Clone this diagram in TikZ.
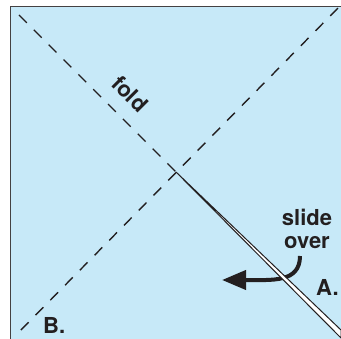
\documentclass[tikz,border=0pt]{standalone}
\usepackage{fontspec}
\setmainfont{TeX Gyre Heros}
\usetikzlibrary{arrows.meta, positioning}
\definecolor{paper}{HTML}{C7E9F8}
\definecolor{ink}{HTML}{231F20}

\begin{document}
\begin{tikzpicture}[x=1pt, y=-1pt,
  crease/.style={ink, line width=1.4pt, dash pattern=on 11pt off 10pt},
  lbl/.style={ink, font=\fontsize{22}{23}\selectfont\bfseries, inner sep=0pt}]
% Frame
\clip (0,0) rectangle (341,339);
\fill[white] (0,0) rectangle (341,339);
\fill[paper] (10.5,6.5) rectangle (350,350);
\draw[ink!85, line width=1.5pt] (10.5,350) -- (10.5,6.5) -- (350,6.5);

% Key points
\coordinate (mid) at (176,172);
\coordinate (tl) at (19,15);
\coordinate (tr) at (338,8);
\coordinate (bl) at (19,332);
\coordinate (edgeA) at (341,330);
\coordinate (edgeB) at (341,338);

% Fold lines
\draw[crease] (tl) -- (mid);
\draw[crease] (tr) -- (bl);

% Labels
\node[lbl, rotate=-45] (fold) at (130,94) {fold};
\node[lbl, align=center] (slide) at (307,229) {slide\\over};
\node[lbl, anchor=base west] (A) at (316,296) {A.};
\node[lbl, anchor=base west] (B) at (43,334) {B.};

% Slide arrow
\coordinate (start) at (300,256);
\coordinate (tip) at (222,280);
\draw[ink, line width=4pt, -{Triangle[length=24pt, width=19pt]}]
  (start) .. controls (300,283) and (272,280) .. (tip);

% Folded edge
\filldraw[fill=white, draw=ink, line width=1pt, line join=round]
  (mid) -- (edgeA) -- (edgeB) -- cycle;
\end{tikzpicture}
\end{document}
